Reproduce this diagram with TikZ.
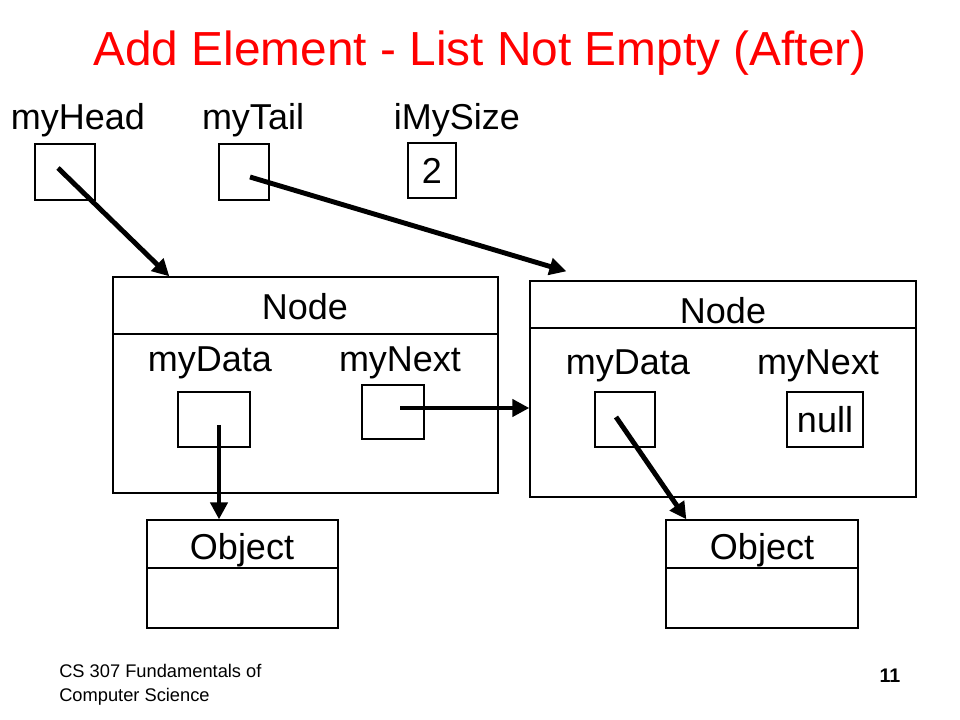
\documentclass[tikz,border=0pt]{standalone}
\usepackage{fontspec}
\setmainfont{Liberation Sans}
\usepackage{tikz}
\usetikzlibrary{arrows.meta}

\begin{document}
\begin{tikzpicture}[x=0.025cm, y=-0.025cm,
  box/.style={draw, line width=0.9pt, inner sep=0, minimum width=#1},
  box/.default=1.5cm,
  ptr/.style={line width=3.5pt, -{Triangle[length=12pt,width=12pt]}},
  lbl/.style={inner sep=0, font=\fontsize{25.6}{30}\selectfont}]

\useasboundingbox (0,0) rectangle (960,720);

% title
\node[inner sep=0, text=red, font=\fontsize{34}{40}\selectfont] (title) at (480,53) {Add Element - List Not Empty (After)};

% list fields
\node[lbl] (headlbl) at (78,120) {myHead};
\node[lbl] (taillbl) at (253,120) {myTail};
\node[lbl] (sizelbl) at (457,120) {iMySize};

\node[box=1.5cm, minimum height=1.4cm] (headbox) at (65,172) {};
\node[box=1.25cm, minimum height=1.4cm] (tailbox) at (244,172) {};
\node[box=1.2cm, minimum height=1.375cm, lbl] (sizebox) at (432,170.5) {2};

% first node
\node[box=9.625cm, minimum height=5.4cm] (node1) at (305.5,385) {};
\draw[line width=0.9pt] (node1.west |- 0,334) -- (node1.east |- 0,334);
\node[lbl] (node1lbl) at (305,307) {Node};
\node[lbl] (data1lbl) at (210,363) {myData};
\node[lbl] (next1lbl) at (400,363) {myNext};
\node[box=1.8cm, minimum height=1.375cm] (data1) at (214,419.5) {};
\node[box=1.55cm, minimum height=1.35cm] (next1) at (393,412) {};

% second node
\node[box=9.65cm, minimum height=5.4cm] (node2) at (723,389) {};
\draw[line width=0.9pt] (node2.west |- 0,328) -- (node2.east |- 0,328);
\node[lbl] (node2lbl) at (723,311) {Node};
\node[lbl] (data2lbl) at (628,366) {myData};
\node[lbl] (next2lbl) at (818,366) {myNext};
\node[box=1.5cm, minimum height=1.375cm] (data2) at (625,419.5) {};
\node[box=1.9cm, minimum height=1.375cm, lbl] (nullbox) at (825,419.5) {null};

% objects
\node[box=4.775cm, minimum height=2.7cm] (obj1) at (242.5,574) {};
\draw[line width=0.9pt] (obj1.west |- 0,568) -- (obj1.east |- 0,568);
\node[lbl] (obj1lbl) at (242,550) {Object};

\node[box=4.8cm, minimum height=2.7cm] (obj2) at (762,574) {};
\draw[line width=0.9pt] (obj2.west |- 0,568) -- (obj2.east |- 0,568);
\node[lbl] (obj2lbl) at (762,550) {Object};

% pointers
\coordinate (headptr) at (58,168);
\coordinate (tailptr) at (250,177);
\coordinate (next1ptr) at (400,408);
\coordinate (data1ptr) at (219,425);
\coordinate (data2ptr) at (616,417);

\draw[ptr] (headptr) -- ([xshift=1.425cm]node1.north west);
\draw[ptr] (tailptr) -- ([xshift=0.925cm, yshift=0.225cm]node2.north west);
\draw[ptr] (next1ptr) -- (node2.west |- next1ptr);
\draw[ptr] (data1ptr) -- (data1ptr |- obj1.north);
\draw[ptr] (data2ptr) -- ([xshift=0.525cm]obj2.north west);

% footer
\node[inner sep=0, anchor=north west, align=left, font=\fontsize{13}{17}\selectfont] (course) at (59,664) {CS 307 Fundamentals of\\Computer Science};
\node[inner sep=0, font=\bfseries\fontsize{14}{17}\selectfont] (page) at (890,676) {11};

\end{tikzpicture}
\end{document}
